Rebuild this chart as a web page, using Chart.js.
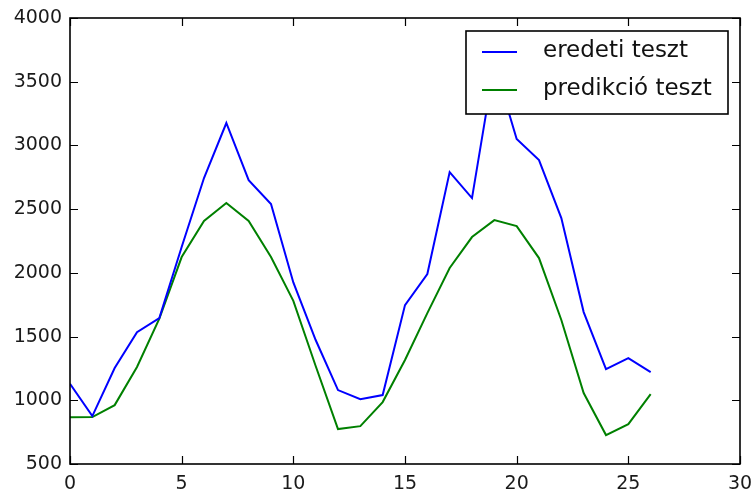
<!DOCTYPE html>
<html>
<head>
<meta charset="utf-8">
<script src="https://cdn.jsdelivr.net/npm/chart.js@4/dist/chart.umd.min.js"></script>
<style>
  html, body { margin: 0; padding: 0; background: #fff; }
  #wrap { width: 751px; height: 493px; }
</style>
</head>
<body>
<div id="wrap"><canvas id="Plot" width="751" height="493"></canvas></div>
<script>
// x positions (sample index)
var xs = [0,1,2,3,4,5,6,7,8,9,10,11,12,13,14,15,16,17,18,19,20,21,22,23,24,25,26];
// values
var eredeti = [1130,876,1253,1535,1645,2203,2744,3176,2728,2540,1925,1473,1080,1009,1041,1747,1991,2791,2587,3640,3050,2885,2430,1692,1245,1331,1221];
var predikcio = [867,868,962,1261,1640,2124,2407,2548,2407,2124,1780,1269,774,797,986,1316,1684,2038,2281,2414,2367,2116,1630,1057,727,813,1049];
var labels = ['eredeti teszt', 'predikció teszt'];
var colors = ['#0000ff', '#008000'];

function pts(ys){
  return ys.map(function(y, i){ return {x: xs[i], y: y}; });
}

var FONT = '"DejaVu Sans", sans-serif';

// matplotlib style frame with inward ticks on all four sides
var framePlugin = {
  id: 'frame',
  afterDatasetsDraw: function(chart){
    var c = chart.ctx, a = chart.chartArea;
    var sx = chart.scales.x, sy = chart.scales.y;
    var len = 8;
    c.save();
    c.strokeStyle = '#000';
    c.lineWidth = 1.2;
    c.beginPath();
    sx.ticks.forEach(function(t){
      var px = Math.round(sx.getPixelForValue(t.value)) + 0.5;
      c.moveTo(px, a.bottom); c.lineTo(px, a.bottom - len);
      c.moveTo(px, a.top); c.lineTo(px, a.top + len);
    });
    sy.ticks.forEach(function(t){
      var py = Math.round(sy.getPixelForValue(t.value)) + 0.5;
      c.moveTo(a.left, py); c.lineTo(a.left + len, py);
      c.moveTo(a.right, py); c.lineTo(a.right - len, py);
    });
    c.stroke();
    c.lineWidth = 1.6;
    c.strokeRect(a.left, a.top, a.right - a.left, a.bottom - a.top);
    c.restore();
  }
};

// legend box inside the plot, drawn over the lines
var boxLegend = {
  id: 'boxLegend',
  afterDraw: function(chart){
    var c = chart.ctx, a = chart.chartArea;
    var w = 262, h = 83;
    var x0 = a.right - 12 - w, y0 = a.top + 13;
    c.save();
    c.fillStyle = '#fff';
    c.fillRect(x0, y0, w, h);
    c.strokeStyle = '#000';
    c.lineWidth = 1.6;
    c.strokeRect(x0, y0, w, h);
    c.font = '23px ' + FONT;
    c.textBaseline = 'middle';
    c.fillStyle = '#111';
    chart.data.datasets.forEach(function(ds, i){
      var ry = y0 + 21 + i * 38;
      c.strokeStyle = ds.borderColor;
      c.lineWidth = 2;
      c.beginPath();
      c.moveTo(x0 + 16, ry); c.lineTo(x0 + 51, ry);
      c.stroke();
      c.fillText(ds.label, x0 + 77, ry - 1);
    });
    c.restore();
  }
};

var ctx = document.getElementById('Plot').getContext('2d');
var myChart = new Chart(ctx, {
  type: 'line',
  data: {
    datasets: [{
      label: labels[0],
      data: pts(eredeti),
      borderColor: colors[0],
      borderWidth: 2,
      pointRadius: 0,
      tension: 0,
      fill: false
    },{
      label: labels[1],
      data: pts(predikcio),
      borderColor: colors[1],
      borderWidth: 2,
      pointRadius: 0,
      tension: 0,
      fill: false
    }]
  },
  options: {
    responsive: false,
    animation: false,
    layout: { padding: { top: 18, right: 11, left: 0, bottom: 0 } },
    plugins: {
      legend: { display: false },
      tooltip: { enabled: false }
    },
    scales: {
      x: {
        type: 'linear',
        min: 0, max: 30,
        ticks: { stepSize: 5, padding: 9, color: '#1a1a1a', font: { family: FONT, size: 19 }, maxRotation: 0,
          callback: function(v){ return String(v); } },
        grid: { display: false, drawTicks: false },
        border: { display: false },
        afterFit: function(s){ s.height = 29; s.paddingLeft = 0; s.paddingRight = 0; }
      },
      y: {
        min: 500, max: 4000,
        ticks: { stepSize: 500, padding: 8, color: '#1a1a1a', font: { family: FONT, size: 19 },
          callback: function(v){ return String(v); } },
        grid: { display: false, drawTicks: false },
        border: { display: false },
        afterFit: function(s){ s.width = 70; s.paddingTop = 0; s.paddingBottom = 0; }
      }
    }
  },
  plugins: [framePlugin, boxLegend]
});
</script>
</body>
</html>
